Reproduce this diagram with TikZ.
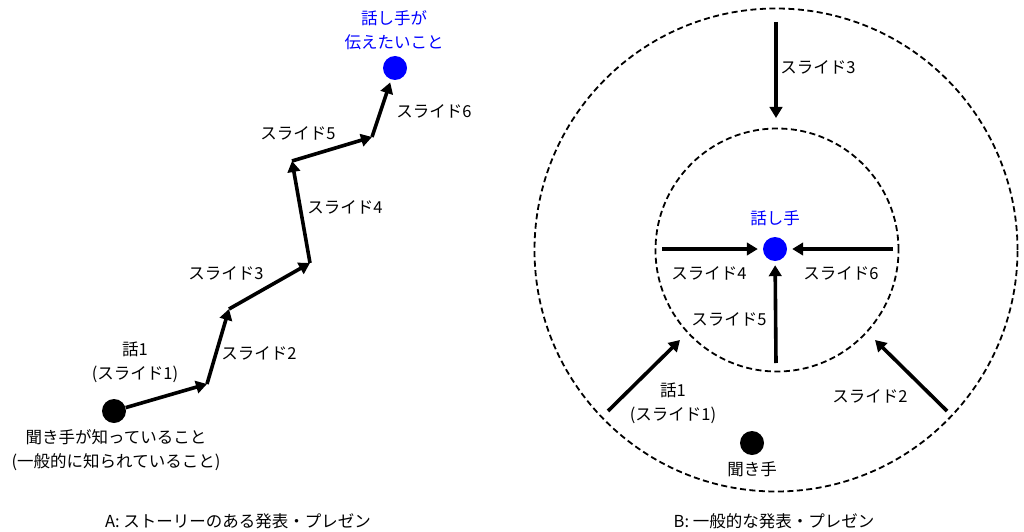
\documentclass[tikz,border=0pt]{standalone}
\usepackage{fontspec}
\setmainfont{Noto Sans CJK JP}
\usetikzlibrary{arrows.meta}
\begin{document}
\begin{tikzpicture}[x=1pt,y=-1pt,
  lbl/.style={font=\fontsize{16.5}{24}\selectfont, align=center, inner sep=0pt},
  bluelbl/.style={lbl, text=blue},
  dot/.style={circle, fill=black, minimum size=24pt, inner sep=0pt},
  bdot/.style={dot, fill=blue},
  arr/.style={line width=3.6pt, -{Triangle[length=11pt,width=12.5pt]}},
  ring/.style={circle, draw, line width=1.8pt, dash pattern=on 6pt off 3.5pt, inner sep=0pt}
]
\useasboundingbox (0,0) rectangle (1024,532);
% ---------- Panel A ----------
\node[dot] (hearA) at (114,411) {};
\coordinate (a1) at (207,384);
\coordinate (a2) at (229,309);
\coordinate (a3) at (310,263);
\coordinate (a4) at (292,161);
\coordinate (a5) at (372,137);
\node[bdot] (goal) at (395,68) {};
\draw[arr] (hearA) -- (a1);
\draw[arr] (a1) -- (a2);
\draw[arr] (a2) -- (a3);
\draw[arr] (a3) -- (a4);
\draw[arr] (a4) -- (a5);
\draw[arr, shorten >=3pt] (a5) -- (goal);

\node[bluelbl] (goalT) at (394,30) {話し手が\\伝えたいこと};
\node[lbl] (s1A) at (135,362) {話1\\(スライド1)};
\node[lbl] (s2A) at (259,353) {スライド2};
\node[lbl] (s3A) at (226,273) {スライド3};
\node[lbl] (s4A) at (345,207) {スライド4};
\node[lbl] (s5A) at (298,133) {スライド5};
\node[lbl] (s6A) at (434,111) {スライド6};
\node[lbl] (knownA) at (116,450) {聞き手が知っていること\\(一般的に知られていること)};
\node[lbl] (capA) at (238,521) {A: ストーリーのある発表・プレゼン};

% ---------- Panel B ----------
\node[ring, minimum size=483pt] (outer) at (776,250) {};
\node[ring, minimum size=243pt] (inner) at (777,250) {};
\node[bdot] (spk) at (775,249) {};
\node[dot] (lis) at (752,443) {};
\coordinate (b3) at (776,22);
\coordinate (t3) at (776,118);
\coordinate (b4) at (662,249);
\coordinate (b6) at (893,249);
\coordinate (b5) at (776,363);
\coordinate (b1) at (608,411);
\coordinate (t1) at (680,340);
\coordinate (b2) at (947,411);
\coordinate (t2) at (875,340);
\draw[arr] (b3) -- (t3);
\draw[arr, shorten >=5pt] (b4) -- (spk);
\draw[arr, shorten >=5pt] (b6) -- (spk);
\draw[arr, shorten >=4pt] (b5) -- (spk);
\draw[arr] (b1) -- (t1);
\draw[arr] (b2) -- (t2);

\node[bluelbl] (spkT) at (775,218) {話し手};
\node[lbl] (s3B) at (818,67) {スライド3};
\node[lbl] (s4B) at (709,273) {スライド4};
\node[lbl] (s6B) at (841,273) {スライド6};
\node[lbl] (s5B) at (729,319) {スライド5};
\node[lbl] (s1B) at (673,403) {話1\\(スライド1)};
\node[lbl] (s2B) at (870,396) {スライド2};
\node[lbl] (lisT) at (752,469) {聞き手};
\node[lbl] (capB) at (774,521) {B: 一般的な発表・プレゼン};
\end{tikzpicture}
\end{document}
